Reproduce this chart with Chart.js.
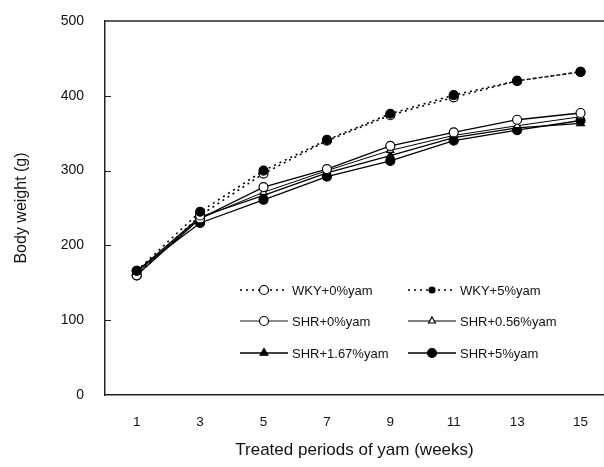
<!DOCTYPE html>
<html>
<head>
<meta charset="utf-8">
<script src="https://cdn.jsdelivr.net/npm/chart.js@4.4.1/dist/chart.umd.min.js"></script>
<style>
  html, body { margin: 0; padding: 0; background: #fff; }
  #wrap { width: 604px; height: 467px; position: relative; }
</style>
</head>
<body>
<div id="wrap"><canvas id="c" width="604" height="467"></canvas></div>
<script>
// ---- data ----
const weeks = [1, 3, 5, 7, 9, 11, 13, 15];
const xTickValues = [1, 3, 5, 7, 9, 11, 13, 15];
const yTickValues = [0, 100, 200, 300, 400, 500];
const seriesLabels = ['WKY+0%yam', 'WKY+5%yam', 'SHR+0%yam', 'SHR+0.56%yam', 'SHR+1.67%yam', 'SHR+5%yam'];
const wky0 = [160, 240, 296, 340, 374, 398, 420, 432];
const wky5 = [166, 245, 300, 341, 376, 401, 420, 432];
const shr0 = [160, 236, 278, 302, 333, 351, 368, 377];
const shr056 = [163, 236, 271, 300, 327, 347, 360, 372];
const shr167 = [165, 238, 267, 297, 320, 344, 357, 363];
const shr5 = [166, 230, 261, 292, 313, 340, 354, 367];

const toPts = arr => weeks.map((w, i) => ({ x: w, y: arr[i] }));
const FONT = "'Liberation Sans', Arial, sans-serif";

function ds(label, values, opts) {
  return Object.assign({
    label: label,
    data: toPts(values),
    borderColor: '#000',
    backgroundColor: '#000',
    pointBorderColor: '#000',
    borderWidth: 1.3,
    pointRadius: 4.5,
    pointBorderWidth: 1.2,
    tension: 0,
    fill: false
  }, opts);
}

// lower index is drawn on top
const datasets = [
  ds(seriesLabels[1], wky5, { pointStyle: 'circle', pointBackgroundColor: '#000', borderDash: [2, 4], borderWidth: 1.6, legendRadius: 3 }),
  ds(seriesLabels[0], wky0, { pointStyle: 'circle', pointBackgroundColor: '#fff', borderDash: [2, 4], borderWidth: 1.6 }),
  ds(seriesLabels[2], shr0, { pointStyle: 'circle', pointBackgroundColor: '#fff', legendLine: '#666' }),
  ds(seriesLabels[3], shr056, { pointStyle: 'triangle', pointBackgroundColor: '#fff', pointRadius: 4, borderWidth: 1.0 }),
  ds(seriesLabels[4], shr167, { pointStyle: 'triangle', pointBackgroundColor: '#000', pointRadius: 4.5 }),
  ds(seriesLabels[5], shr5, { pointStyle: 'circle', pointBackgroundColor: '#000' })
];

// legend: row-major, 2 columns, by label order
const legendOrder = seriesLabels.map(l => datasets.findIndex(d => d.label === l));

const framePlugin = {
  id: 'frame',
  afterDatasetsDraw(chart) {
    const { ctx, chartArea: a, scales } = chart;
    ctx.save();
    ctx.strokeStyle = '#222';
    ctx.lineWidth = 1.5;
    ctx.beginPath();
    ctx.moveTo(a.left, a.top); ctx.lineTo(a.right, a.top);
    ctx.stroke();
    // inside ticks on y axis
    ctx.lineWidth = 1;
    yTickValues.forEach(v => {
      if (v === 0 || v === 500) return;
      const y = Math.round(scales.y.getPixelForValue(v)) + 0.5;
      ctx.beginPath(); ctx.moveTo(a.left, y); ctx.lineTo(a.left + 6, y); ctx.stroke();
    });
    // legend
    const colSample = [240, 408];
    const colText = [292, 460];
    const rowY = [290, 321, 353];
    ctx.font = '13px ' + FONT;
    ctx.textBaseline = 'middle';
    ctx.fillStyle = '#111';
    legendOrder.forEach((di, k) => {
      const d = chart.data.datasets[di];
      const col = k % 2, row = Math.floor(k / 2);
      const x0 = colSample[col], x1 = x0 + 48, y = rowY[row];
      ctx.save();
      ctx.strokeStyle = d.legendLine || d.borderColor;
      ctx.lineWidth = d.borderWidth;
      ctx.setLineDash(d.borderDash || []);
      ctx.beginPath(); ctx.moveTo(x0, y); ctx.lineTo(x1, y); ctx.stroke();
      ctx.setLineDash([]);
      ctx.fillStyle = d.pointBackgroundColor;
      ctx.strokeStyle = d.pointBorderColor;
      ctx.lineWidth = d.pointBorderWidth;
      Chart.helpers.drawPoint(ctx, { pointStyle: d.pointStyle, radius: d.legendRadius || d.pointRadius, borderWidth: d.pointBorderWidth, rotation: 0 }, (x0 + x1) / 2, y);
      ctx.restore();
      ctx.fillText(d.label, colText[col], y + 1);
    });
    ctx.restore();
  }
};

new Chart(document.getElementById('c'), {
  type: 'line',
  data: { datasets: datasets },
  options: {
    responsive: false,
    animation: false,
    events: [],
    layout: { autoPadding: false, padding: { left: 0, right: 0, top: 21, bottom: 0 } },
    plugins: { legend: { display: false }, tooltip: { enabled: false } },
    scales: {
      x: {
        type: 'linear',
        min: 0,
        max: 15.74,
        afterBuildTicks: s => { s.ticks = xTickValues.map(v => ({ value: v })); },
        afterFit: s => { s.height = 72; s.paddingLeft = 0; s.paddingRight = 0; },
        grid: { display: true, drawOnChartArea: false, drawTicks: false },
        border: { display: true, color: '#222', width: 1.5 },
        ticks: { color: '#111', font: { family: FONT, size: 13.5 }, padding: 19, maxRotation: 0, autoSkip: false,
                 callback: v => String(v) },
        title: { display: true, text: 'Treated periods of yam (weeks)', color: '#111',
                 font: { family: FONT, size: 17 }, padding: { top: 0, bottom: 6 } }
      },
      y: {
        min: 0,
        max: 500,
        afterBuildTicks: s => { s.ticks = yTickValues.map(v => ({ value: v })); },
        afterFit: s => { s.width = 105; s.paddingTop = 0; s.paddingBottom = 0; },
        grid: { display: true, drawOnChartArea: false, drawTicks: false },
        border: { display: true, color: '#222', width: 1.5 },
        ticks: { color: '#111', font: { family: FONT, size: 14 }, padding: 21 },
        title: { display: true, text: 'Body weight (g)', color: '#111',
                 font: { family: FONT, size: 16 }, padding: { top: 12, bottom: 0 } }
      }
    }
  },
  plugins: [framePlugin]
});
</script>
</body>
</html>
